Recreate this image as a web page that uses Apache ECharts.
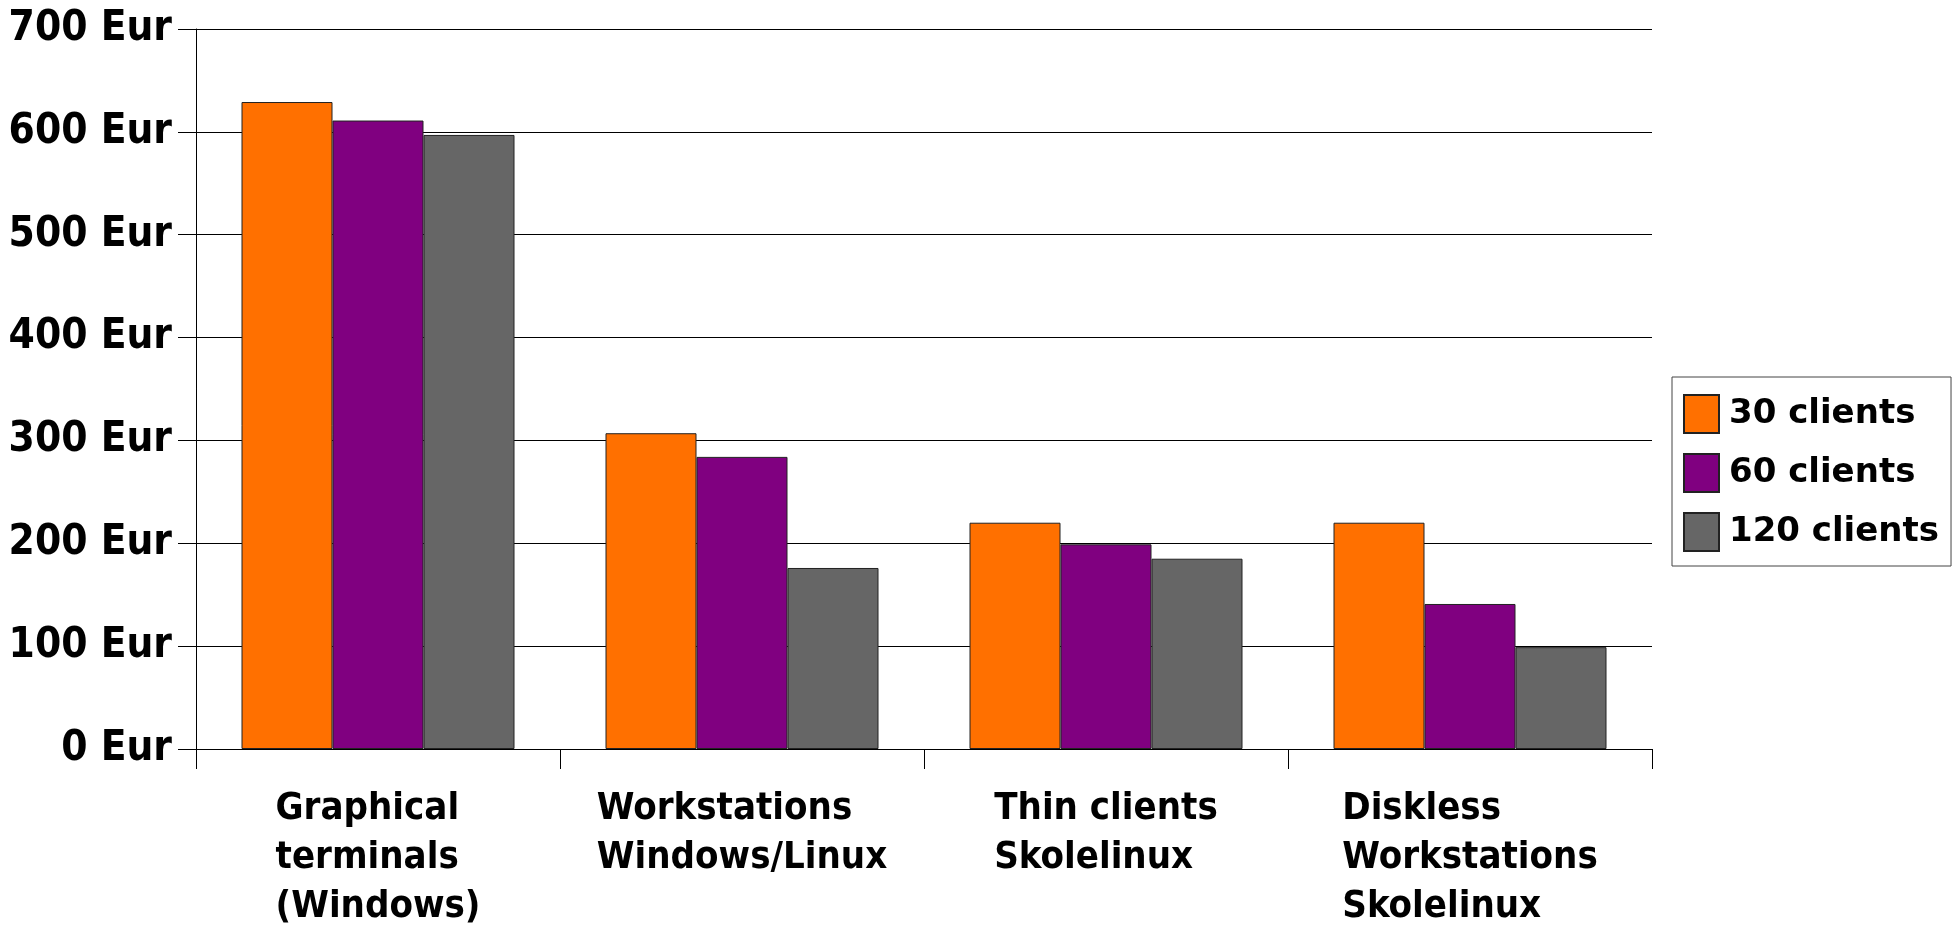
<!DOCTYPE html>
<html>
<head>
<meta charset="utf-8">
<script src="https://cdn.jsdelivr.net/npm/echarts@6/dist/echarts.min.js"></script>
<style>
html, body { margin: 0; padding: 0; background: #fff; }
#chart-container { width: 1960px; height: 928px; }
</style>
</head>
<body>
<div id="chart-container"></div>
<script>
var categories = ['Graphical\nterminals\n(Windows)', 'Workstations\nWindows/Linux', 'Thin clients\nSkolelinux', 'Diskless\nWorkstations\nSkolelinux'];
var seriesNames = ['30 clients', '60 clients', '120 clients'];
var clients30 = [629, 307, 220, 220];
var clients60 = [611, 284, 199, 141];
var clients120 = [597, 176, 185, 99];
var yTicks = [0, 100, 200, 300, 400, 500, 600, 700];
var colors = ['#ff7000', '#800080', '#666666'];

var labelFont = '"DejaVu Sans Condensed", "DejaVu Sans"';

var dom = document.getElementById('chart-container');
var myChart = echarts.init(dom, null, { renderer: 'canvas' });

function barSeries(name, values, color) {
    return {
        name: name,
        type: 'bar',
        barGap: '0%',
        barCategoryGap: '25%',
        itemStyle: { color: color, borderColor: '#222', borderWidth: 1 },
        data: values
    };
}

var option = {
    animation: false,
    color: colors,
    grid: { left: 196, right: 308, top: 29, bottom: 179 },
    legend: {
        orient: 'vertical',
        left: 1672,
        top: 377,
        padding: [17, 12, 14, 11],
        itemWidth: 35,
        itemHeight: 38,
        itemGap: 19,
        icon: 'rect',
        borderColor: '#444',
        borderWidth: 1,
        textStyle: {
            fontFamily: 'DejaVu Sans',
            fontWeight: 'bold',
            fontSize: 34,
            color: '#000',
            padding: [0, 0, 0, 5]
        },
        data: seriesNames
    },
    xAxis: {
        type: 'category',
        data: categories,
        axisLine: { lineStyle: { color: '#000', width: 1 } },
        axisTick: { show: true, length: 20, lineStyle: { color: '#000' } },
        axisLabel: {
            interval: 0,
            margin: 36,
            formatter: function (v) {
                return v.split('\n').map(function (s) { return '{l|' + s + '}'; }).join('\n');
            },
            rich: {
                l: {
                    align: 'left',
                    fontFamily: labelFont,
                    fontWeight: 'bold',
                    fontSize: 38,
                    lineHeight: 49,
                    color: '#000'
                }
            }
        }
    },
    yAxis: {
        type: 'value',
        min: yTicks[0],
        max: yTicks[yTicks.length - 1],
        interval: 100,
        axisLine: { show: true, lineStyle: { color: '#000', width: 1 } },
        axisTick: { show: true, length: 18, lineStyle: { color: '#000' } },
        splitLine: { show: true, lineStyle: { color: '#000', width: 1 } },
        axisLabel: {
            margin: 24,
            fontFamily: labelFont,
            fontWeight: 'bold',
            fontSize: 42,
            color: '#000',
            formatter: '{value} Eur'
        }
    },
    series: [
        barSeries(seriesNames[0], clients30, colors[0]),
        barSeries(seriesNames[1], clients60, colors[1]),
        barSeries(seriesNames[2], clients120, colors[2])
    ]
};

myChart.setOption(option);
window.addEventListener('resize', myChart.resize);
</script>
</body>
</html>
